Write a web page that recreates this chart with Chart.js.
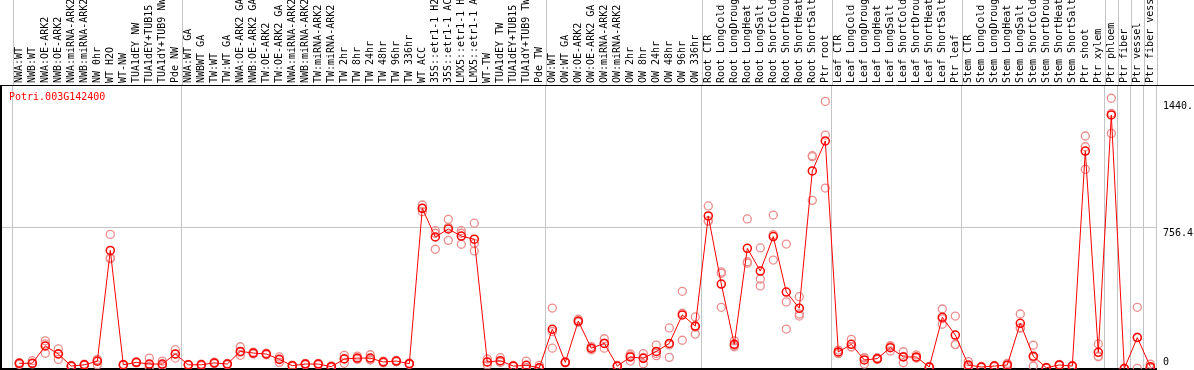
<!DOCTYPE html>
<html>
<head>
<meta charset="utf-8">
<script src="https://cdn.jsdelivr.net/npm/chart.js@4.4.0/dist/chart.umd.min.js"></script>
<style>
html, body { margin: 0; padding: 0; background: #fff; }
canvas { display: block; }
</style>
</head>
<body>
<canvas id="myChart" width="1194" height="370"></canvas>
<script>
// sample names, in plotting order
var labels = ['NWA:WT', 'NWB:WT', 'NWA:OE-ARK2', 'NWB:OE-ARK2', 'NWA:miRNA-ARK2', 'NWB:miRNA-ARK2',
    'NW 0hr', 'WT H2O', 'WT-NW', 'TUA1dEY NW', 'TUA1dEY+TUB15 NW', 'TUA1dY+TUB9 NW', 'Pde NW',
    'NWA:WT GA', 'NWBWT GA', 'TW:WT', 'TW:WT GA', 'NWA:OE-ARK2 GA', 'NWB:OE-ARK2 GA', 'TW:OE-ARK2',
    'TW:OE-ARK2 GA', 'NWA:miRNA-ARK2 GA', 'NWB:miRNA-ARK2 GA', 'TW:miRNA-ARK2', 'TW:miRNA-ARK2 GA',
    'TW 2hr', 'TW 8hr', 'TW 24hr', 'TW 48hr', 'TW 96hr', 'TW 336hr', 'WT ACC',
    '35S::etr1-1 H2O', '35S::etr1-1 ACC', 'LMX5::etr1-1 H2O', 'LMX5::etr1-1 ACC', 'WT-TW',
    'TUA1dEY TW', 'TUA1dEY+TUB15 TW', 'TUA1dY+TUB9 TW', 'Pde TW',
    'OW:WT', 'OW:WT GA', 'OW:OE-ARK2', 'OW:OE-ARK2 GA', 'OW:miRNA-ARK2', 'OW:miRNA-ARK2 GA',
    'OW 2hr', 'OW 8hr', 'OW 24hr', 'OW 48hr', 'OW 96hr', 'OW 336hr',
    'Root CTR', 'Root LongCold', 'Root LongDrought', 'Root LongHeat', 'Root LongSalt',
    'Root ShortCold', 'Root ShortDrought', 'Root ShortHeat', 'Root ShortSalt', 'Ptr root',
    'Leaf CTR', 'Leaf LongCold', 'Leaf LongDrought', 'Leaf LongHeat', 'Leaf LongSalt',
    'Leaf ShortCold', 'Leaf ShortDrought', 'Leaf ShortHeat', 'Leaf ShortSalt', 'Ptr leaf',
    'Stem CTR', 'Stem LongCold', 'Stem LongDrought', 'Stem LongHeat', 'Stem LongSalt',
    'Stem ShortCold', 'Stem ShortDrought', 'Stem ShortHeat', 'Stem ShortSalt', 'Ptr shoot',
    'Ptr xylem', 'Ptr phloem', 'Ptr fiber', 'Ptr vessel', 'Ptr fiber vessel'];

// mean expression per sample
var means = [28, 28, 121, 78, 13, 20, 39, 635, 20, 33,
    24, 24, 78, 20, 20, 30, 24, 92, 83, 78,
    49, 15, 24, 24, 10, 51, 56, 56, 35, 40,
    26, 861, 707, 750, 712, 695, 35, 42, 13, 17,
    4, 211, 33, 255, 109, 135, 13, 62, 55, 92,
    135, 288, 228, 820, 454, 130, 646, 524, 709, 411,
    324, 1062, 1223, 89, 130, 46, 53, 112, 62, 62,
    8, 275, 180, 19, 8, 13, 19, 243, 66, 4,
    19, 13, 1169, 87, 1363, 0, 166, 10];

// individual replicates per sample
var reps = [[28, 22, 32], [28, 42, 25], [149, 82, 132], [105, 49, 80], [13, 10, 16], [20, 17, 24],
    [49, 20, 45], [721, 590, 595], [20, 18, 22], [33, 30, 36], [56, 8, 8], [40, 16, 16], [101, 56, 77],
    [20, 18, 22], [20, 16, 24], [30, 26, 34], [24, 20, 28], [117, 71, 88], [83, 78, 88], [78, 74, 82],
    [62, 33, 52], [15, 12, 18], [24, 20, 28], [24, 20, 28], [10, 6, 14], [71, 28, 54], [67, 50, 51],
    [74, 47, 47], [35, 30, 40], [40, 36, 44], [26, 22, 30], [879, 843, 861], [741, 641, 727],
    [802, 689, 759], [741, 668, 727], [781, 632, 672], [51, 19, 35], [58, 34, 34], [13, 10, 16],
    [40, 5, 6], [17, 0, 0], [325, 109, 199], [33, 30, 36], [265, 250, 250], [109, 100, 118],
    [160, 109, 136], [13, 10, 16], [78, 40, 68], [80, 26, 59], [126, 69, 81], [218, 60, 127],
    [415, 152, 297], [277, 185, 222], [874, 793, 793], [519, 512, 329], [149, 117, 124],
    [804, 574, 566], [648, 481, 444], [825, 583, 719], [669, 358, 212], [386, 293, 282],
    [1139, 1144, 904], [1436, 1255, 970], [99, 80, 88], [157, 116, 117], [24, 57, 57], [53, 48, 58],
    [94, 121, 121], [90, 31, 65], [73, 56, 57], [8, 5, 11], [320, 238, 267], [282, 130, 128],
    [37, 10, 10], [8, 5, 11], [13, 10, 16], [28, 14, 15], [293, 216, 220], [125, 13, 60], [4, 2, 6],
    [19, 16, 22], [13, 10, 16], [1250, 1192, 1071], [132, 63, 66], [1453, 1264, 1372], [0, 0, 0],
    [329, 1, 168], [24, 3, 3]];

// where the grey separators sit (between sample groups)
var groupEdges = [-0.5, 12.5, 40.5, 52.5, 62.5, 72.5, 83.5, 84.5, 85.5, 86.5, 87.5];
var yTicks = [0, 756.4, 1440];
var yTickText = ['0', '756.4', '1440.'];
var geneName = 'Potri.003G142400';

var meanPoints = means.map(function (v, i) { return { x: i, y: v }; });
var repPoints = [];
reps.forEach(function (r, i) {
    r.forEach(function (v) { repPoints.push({ x: i, y: v }); });
});

var grey = '#c4c4c4';

var framePlugin = {
    id: 'frame',
    beforeDatasetsDraw: function (chart) {
        var ctx = chart.ctx, a = chart.chartArea, x2 = chart.scales.x2;
        ctx.save();
        // separators continue up through the label area
        ctx.strokeStyle = grey;
        ctx.lineWidth = 1;
        x2.ticks.forEach(function (t) {
            var px = Math.round(x2.getPixelForValue(t.value)) + 0.5;
            ctx.beginPath();
            ctx.moveTo(px, 0);
            ctx.lineTo(px, a.top);
            ctx.stroke();
        });
        ctx.strokeStyle = '#000';
        ctx.beginPath();
        ctx.moveTo(0, a.top + 0.5);
        ctx.lineTo(chart.width, a.top + 0.5);
        ctx.stroke();
        ctx.lineWidth = 2;
        ctx.beginPath();
        ctx.moveTo(a.left + 1, a.top);
        ctx.lineTo(a.left + 1, a.bottom);
        ctx.moveTo(a.left, a.bottom);
        ctx.lineTo(a.right, a.bottom);
        ctx.stroke();
        ctx.restore();
    },
    afterDatasetsDraw: function (chart) {
        var ctx = chart.ctx, a = chart.chartArea;
        ctx.save();
        ctx.fillStyle = '#ff0000';
        ctx.font = '10px "DejaVu Sans Mono"';
        ctx.textBaseline = 'top';
        ctx.fillText(geneName, a.left + 9, a.top + 7);
        ctx.restore();
    }
};

function noPad(scale) {
    scale.paddingLeft = 0;
    scale.paddingRight = 0;
    scale.paddingTop = 0;
    scale.paddingBottom = 0;
}

Chart.defaults.font.family = '"DejaVu Sans Mono", monospace';
Chart.defaults.font.size = 10;
Chart.defaults.color = '#000';

var ctx = document.getElementById('myChart').getContext('2d');
var chart = new Chart(ctx, {
    type: 'line',
    data: {
        datasets: [{
            data: meanPoints,
            borderColor: '#ff0000',
            borderWidth: 1,
            pointRadius: 4,
            pointBorderWidth: 1.5,
            pointBorderColor: '#ff0000',
            pointBackgroundColor: 'rgba(0,0,0,0)',
            tension: 0,
            xAxisID: 'x',
            yAxisID: 'y'
        }, {
            data: repPoints,
            showLine: false,
            pointRadius: 4,
            pointBorderWidth: 1.3,
            pointBorderColor: '#ec8c8c',
            pointBackgroundColor: 'rgba(0,0,0,0)',
            xAxisID: 'x',
            yAxisID: 'y'
        }]
    },
    plugins: [framePlugin],
    options: {
        responsive: false,
        animation: false,
        devicePixelRatio: 1,
        events: [],
        layout: { autoPadding: false, padding: { left: 0, right: 0, top: 0, bottom: 1 } },
        plugins: { legend: { display: false }, tooltip: { enabled: false } },
        scales: {
            x: {
                type: 'linear',
                position: 'top',
                min: -1.485,
                max: 87.515,
                grid: { display: false, drawTicks: false },
                border: { display: false },
                ticks: {
                    autoSkip: false,
                    minRotation: 90,
                    maxRotation: 90,
                    padding: 2,
                    labelOffset: 12,
                    callback: function (v) { return labels[v]; }
                },
                afterBuildTicks: function (s) {
                    s.ticks = labels.map(function (_, i) { return { value: i }; });
                },
                afterFit: function (s) { s.height = 85; noPad(s); }
            },
            x2: {
                type: 'linear',
                position: 'bottom',
                min: -1.485,
                max: 87.515,
                grid: { color: grey, lineWidth: 1, drawTicks: false },
                border: { display: false },
                ticks: { display: false },
                afterBuildTicks: function (s) {
                    s.ticks = groupEdges.map(function (v) { return { value: v }; });
                },
                afterFit: function (s) { s.height = 0; noPad(s); }
            },
            y: {
                type: 'linear',
                position: 'right',
                min: -2.69,
                max: 1524.1,
                grid: {
                    drawTicks: false,
                    color: function (c) {
                        return c.tick && c.tick.value === 756.4 ? grey : 'rgba(0,0,0,0)';
                    }
                },
                border: { display: false },
                ticks: {
                    padding: 6,
                    callback: function (v) {
                        var i = yTicks.indexOf(v);
                        var t = yTickText[i];
                        return v === 0 ? [t, ''] : ['', t];
                    }
                },
                afterBuildTicks: function (s) {
                    s.ticks = yTicks.map(function (v) { return { value: v }; });
                },
                afterFit: function (s) { s.width = 37; noPad(s); }
            }
        }
    }
});
</script>
</body>
</html>
